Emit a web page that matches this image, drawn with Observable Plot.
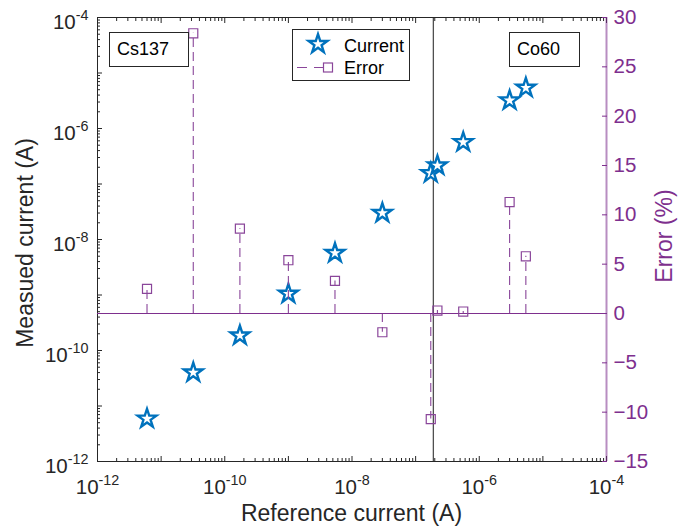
<!DOCTYPE html>
<html>
<head>
<meta charset="utf-8">
<script src="https://cdn.jsdelivr.net/npm/d3@7"></script>
<script src="https://cdn.jsdelivr.net/npm/@observablehq/plot@0.6"></script>
<style>
  html, body { margin: 0; padding: 0; background: white; }
  #wrap { position: relative; width: 689px; height: 532px; font-family: "Liberation Sans", Arial, Helvetica, sans-serif; }
  #wrap > svg { position: absolute; left: 0; top: 0; }
</style>
</head>
<body>
<div id="wrap"></div>
<script>
// ---- data ----
const refCurrent      = [6.0e-12, 3.2e-11, 1.73e-10, 1.0e-9, 5.4e-9, 3.0e-8, 1.73e-7, 2.2e-7, 5.6e-7, 3.0e-6, 5.4e-6];
const measuredCurrent = [5.9e-12, 4.0e-11, 1.86e-10, 1.05e-9, 5.7e-9, 3.0e-8, 1.57e-7, 2.15e-7, 5.66e-7, 3.2e-6, 5.4e-6];
const errorPercent    = [2.5, 28.4, 8.6, 5.4, 3.3, -1.9, -10.7, 0.3, 0.2, 11.3, 5.8];
const boundaryRef     = [1.9e-7];
const logTickLabels   = [1e-12, 1e-10, 1e-8, 1e-6, 1e-4];
const errorTicks      = [-15, -10, -5, 0, 5, 10, 15, 20, 25, 30];
const xLabel = "Reference current (A)";
const yLabel = "Measued current (A)";
const y2Label = "Error (%)";
const seriesNames = ["Current", "Error"];
const boxLabels = ["Cs137", "Co60"];

// ---- derived tables ----
const rows = refCurrent.map((r, i) => ({ref: r, meas: measuredCurrent[i], err: errorPercent[i]}));
const decades = d3.range(-12, -3).map(k => +("1e" + k));
const minorTicks = [];
for (let k = -12; k <= -5; k++) for (let m = 2; m <= 9; m++) minorTicks.push(+(m + "e" + k));

const W = 689, H = 532, mL = 97, mR = 83, mT = 17, mB = 71;
const black = "#262626", blue = "#0072BD", purple = "#7E2F8E", stemPurple = "#8A469A";
const font = "'Liberation Sans', Arial, Helvetica, sans-serif";
const tickFont = 20.5;
const supFmt = d => "10^" + Math.round(Math.log10(d));
const blank = () => "";

const A = Plot.plot({
  width: W, height: H, marginLeft: mL, marginRight: mR, marginTop: mT, marginBottom: mB,
  x: {type: "log", domain: [1e-12, 1e-4]},
  y: {type: "log", domain: [1e-12, 1e-4]},
  style: {fontFamily: font, background: "white", overflow: "visible"},
  marks: [
    Plot.ruleX(boundaryRef, {stroke: "#505050", strokeWidth: 1.3}),
    Plot.axisX({ticks: logTickLabels, tickSize: 0, tickPadding: 18, tickFormat: supFmt, fontSize: tickFont, color: black, label: null}),
    Plot.axisX({ticks: decades, tickSize: -5, tickFormat: blank, color: black, label: null}),
    Plot.axisX({ticks: minorTicks, tickSize: -3, tickFormat: blank, color: black, label: null}),
    Plot.axisX({anchor: "top", ticks: decades, tickSize: -5, tickFormat: blank, color: black, label: null}),
    Plot.axisX({anchor: "top", ticks: minorTicks, tickSize: -3, tickFormat: blank, color: black, label: null}),
    Plot.axisY({ticks: logTickLabels, tickSize: 0, tickPadding: 9, tickFormat: supFmt, fontSize: tickFont, color: black, label: null}),
    Plot.axisY({ticks: decades, tickSize: -5, tickFormat: blank, color: black, label: null}),
    Plot.axisY({ticks: minorTicks, tickSize: -3, tickFormat: blank, color: black, label: null}),
    Plot.ruleX([1e-12], {stroke: black, strokeWidth: 1}),
    Plot.ruleY([1e-12], {stroke: black, strokeWidth: 1}),
    Plot.ruleY([1e-4], {stroke: black, strokeWidth: 1}),
    Plot.dot(rows, {x: "ref", y: "meas", symbol: "star", r: 5.9, stroke: blue, strokeWidth: 2.4, fill: "white"})
  ]
});

const B = Plot.plot({
  width: W, height: H, marginLeft: mL, marginRight: mR, marginTop: mT, marginBottom: mB,
  x: {type: "log", domain: [1e-12, 1e-4], axis: null},
  y: {domain: [-15, 30]},
  style: {fontFamily: font, background: "transparent", overflow: "visible"},
  marks: [
    Plot.ruleX(rows, {x: "ref", y1: 0, y2: "err", stroke: stemPurple, strokeWidth: 1.1, strokeDasharray: "9,5"}),
    Plot.ruleY([0], {stroke: purple, strokeWidth: 1}),
    Plot.dot(rows, {x: "ref", y: "err", symbol: "square", r: 5.1, stroke: stemPurple, strokeWidth: 1.2, fill: "none"}),
    Plot.ruleX([1e-4], {stroke: purple, strokeOpacity: 0.55, strokeWidth: 2}),
    Plot.axisY({anchor: "right", ticks: errorTicks, tickSize: 0, tickPadding: 7, fontSize: tickFont, color: purple, label: null}),
    Plot.axisY({anchor: "right", ticks: errorTicks, tickSize: -5, tickFormat: blank, color: purple, label: null})
  ]
});

// superscript exponents for the log tick labels
const ns = "http://www.w3.org/2000/svg";
function superscript(svg, isY) {
  svg.querySelectorAll("text").forEach(t => {
    const m = /^10\^(-?\d+)$/.exec(t.textContent.trim());
    if (!m) return;
    t.textContent = "";
    const base = document.createElementNS(ns, "tspan");
    base.textContent = "10";
    if (isY) base.setAttribute("dy", "0.25em");
    const exp = document.createElementNS(ns, "tspan");
    exp.textContent = m[1];
    exp.setAttribute("font-size", "0.7em");
    exp.setAttribute("dy", "-0.62em");
    t.appendChild(base); t.appendChild(exp);
  });
}
A.querySelectorAll('g[aria-label="x-axis tick label"]').forEach(g => superscript(g, false));
A.querySelectorAll('g[aria-label="y-axis tick label"]').forEach(g => superscript(g, true));

const wrap = document.getElementById("wrap");
wrap.appendChild(A);
wrap.appendChild(B);

// overlay: titles, legend, annotation boxes
const ov = d3.create("svg").attr("width", W).attr("height", H)
  .style("font-family", font).style("pointer-events", "none");
ov.append("text").attr("x", (mL + W - mR) / 2).attr("y", 521).attr("text-anchor", "middle")
  .attr("font-size", 23).attr("fill", black).text(xLabel);
ov.append("text").attr("transform", "translate(33,243) rotate(-90)").attr("text-anchor", "middle")
  .attr("font-size", 23).attr("fill", black).text(yLabel);
ov.append("text").attr("transform", "translate(672,236) rotate(-90)").attr("text-anchor", "middle")
  .attr("font-size", 23).attr("fill", purple).text(y2Label);

// legend
const lg = ov.append("g");
lg.append("rect").attr("x", 292.5).attr("y", 29.5).attr("width", 117).attr("height", 51)
  .attr("fill", "white").attr("stroke", black);
lg.append("path").attr("transform", "translate(318,44)")
  .attr("d", d3.symbol(d3.symbolStar, Math.PI * 5.9 * 5.9)())
  .attr("fill", "white").attr("stroke", blue).attr("stroke-width", 2.4);
lg.append("text").attr("x", 344).attr("y", 52).attr("font-size", 18).attr("fill", "#000").text(seriesNames[0]);
lg.append("line").attr("x1", 297).attr("x2", 324).attr("y1", 67.5).attr("y2", 67.5)
  .attr("stroke", stemPurple).attr("stroke-width", 1.1).attr("stroke-dasharray", "10,7");
lg.append("rect").attr("x", 323.5).attr("y", 63).attr("width", 9).attr("height", 9)
  .attr("fill", "none").attr("stroke", stemPurple).attr("stroke-width", 1.2);
lg.append("text").attr("x", 344).attr("y", 74).attr("font-size", 18).attr("fill", "#000").text(seriesNames[1]);

// annotation boxes
[[109.5, 79, boxLabels[0]], [509.5, 70, boxLabels[1]]].forEach(([x, w, s]) => {
  ov.append("rect").attr("x", x).attr("y", 32.5).attr("width", w).attr("height", 34)
    .attr("fill", "white").attr("stroke", black);
  ov.append("text").attr("x", x + 7.5).attr("y", 55).attr("font-size", 18).attr("fill", "#000").text(s);
});
wrap.appendChild(ov.node());
</script>
</body>
</html>
